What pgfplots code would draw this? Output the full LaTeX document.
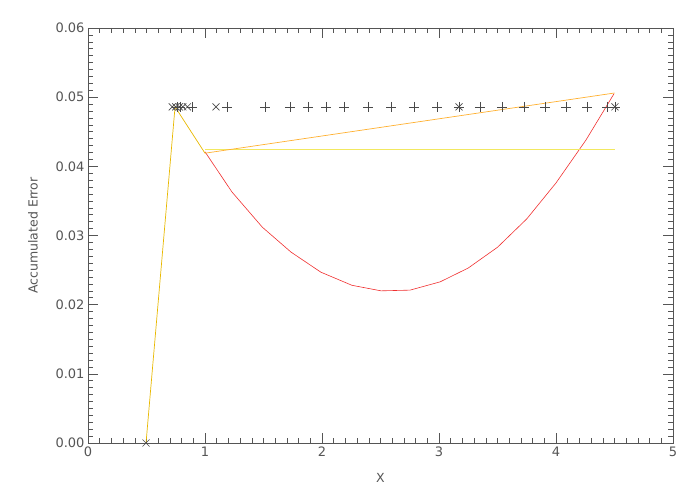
\documentclass[border=0pt]{standalone}
\usepackage{fontspec}
\setmainfont{DejaVu Sans}
\usepackage{pgfplots}
\pgfplotsset{compat=1.18}
\definecolor{axgray}{HTML}{555555}
\definecolor{idlred}{HTML}{F03030}
\definecolor{idlgold}{HTML}{E8B800}
\definecolor{idlorange}{HTML}{FFB030}
\definecolor{idlpale}{HTML}{F2E860}
\definecolor{markgray}{HTML}{4A4A4A}

\begin{document}
\begin{tikzpicture}
\path (0,0) rectangle (700pt,500pt);
\begin{axis}[
    at={(88pt,57pt)}, anchor=south west,
    scale only axis, width=585pt, height=415pt,
    xmin=0, xmax=5, ymin=0, ymax=0.06,
    xtick={0,1,2,3,4,5},
    ytick={0,0.01,0.02,0.03,0.04,0.05,0.06},
    minor x tick num=9, minor y tick num=9,
    tick align=inside,
    major tick length=10pt, minor tick length=5pt,
    axis line style={axgray, line width=0.7pt},
    every tick/.style={axgray, line width=0.6pt},
    scaled y ticks=false,
    yticklabel style={/pgf/number format/.cd, fixed, fixed zerofill, precision=2},
    /pgf/number format/assume math mode=true,
    ticklabel style={font=\fontsize{13}{15}\selectfont, text=axgray},
    xlabel={X}, ylabel={Accumulated Error},
    label style={font=\fontsize{12.5}{15}\selectfont, text=axgray},
    xlabel style={at={(axis description cs:0.5,-0.084)}, anchor=center},
    ylabel style={at={(axis description cs:-0.094,0.5)}, anchor=center},
]
% red curve
\addplot[idlred, line width=0.6pt] coordinates {
    (1.00,0.0421) (1.23,0.0363) (1.49,0.0312) (1.735,0.0276) (1.99,0.0247)
    (2.256,0.0228) (2.504,0.0220) (2.752,0.0221) (3.01,0.0233) (3.25,0.0253)
    (3.50,0.0283) (3.75,0.0324) (4.00,0.0376) (4.256,0.0438) (4.496,0.0505)
};
% pale horizontal
\addplot[idlpale, line width=0.8pt] coordinates {(1.00,0.0424) (4.50,0.0424)};
% orange rising
\addplot[idlorange, line width=0.7pt] coordinates {(1.00,0.0419) (4.50,0.0506)};
% gold path
\addplot[idlgold, line width=0.7pt] coordinates {(0.496,0) (0.744,0.0486) (1.00,0.0419)};
% plus markers
\addplot[only marks, mark=+, mark size=5pt, markgray, mark options={line width=0.6pt}] coordinates {
    (0.76,0.0486) (0.79,0.0486) (0.889,0.0486) (1.188,0.0486) (1.513,0.0486)
    (1.726,0.0486) (1.880,0.0486) (2.034,0.0486) (2.188,0.0486) (2.393,0.0486)
    (2.590,0.0486) (2.786,0.0486) (2.983,0.0486) (3.171,0.0486) (3.350,0.0486)
    (3.538,0.0486) (3.726,0.0486) (3.906,0.0486) (4.085,0.0486) (4.265,0.0486)
    (4.436,0.0486) (4.504,0.0486)
};
% cross markers
\addplot[only marks, mark=x, mark size=5pt, markgray, mark options={line width=0.6pt}] coordinates {
    (0.72,0.0486) (0.75,0.0486) (0.78,0.0486) (0.81,0.0486) (0.85,0.0486)
    (1.094,0.0486) (3.171,0.0486) (4.504,0.0486) (0.496,0)
};
\end{axis}
\end{tikzpicture}
\end{document}
